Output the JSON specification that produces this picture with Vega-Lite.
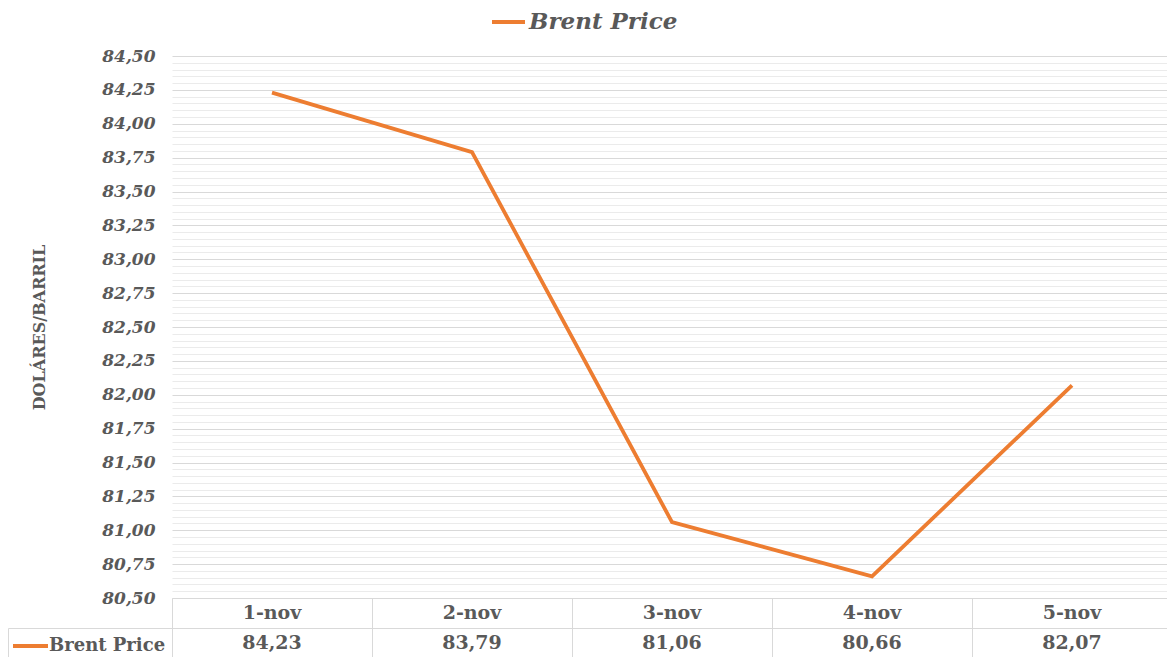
{
  "$schema": "https://vega.github.io/schema/vega-lite/v6.json",
  "padding": {"left": 7, "top": 10, "right": 0, "bottom": 0},
  "background": "white",
  "config": {"view": {"stroke": null}},
  "data": {"values": [
    {"date": "1-nov", "price": 84.23},
    {"date": "2-nov", "price": 83.79},
    {"date": "3-nov", "price": 81.06},
    {"date": "4-nov", "price": 80.66},
    {"date": "5-nov", "price": 82.07}
  ]},
  "spacing": 0,
  "bounds": "flush",
  "resolve": {"scale": {"x": "independent", "y": "independent", "color": "independent"}, "legend": {"color": "independent"}},
  "vconcat": [
    {
      "width": 1000,
      "height": 542,
      "layer": [
        {
          "mark": {"type": "line", "opacity": 0},
          "encoding": {
            "x": {"field": "date", "type": "ordinal", "sort": null, "scale": {"type": "point", "padding": 0.5}, "axis": null},
            "y": {"field": "price", "type": "quantitative", "scale": {"domain": [80.5, 84.5], "nice": false, "zero": false},
              "axis": {"orient": "left", "grid": true, "tickCount": 80, "labels": false, "ticks": false, "domain": false, "title": null,
                "gridColor": {"condition": {"test": "abs(datum.value*4 - round(datum.value*4)) < 0.001", "value": "transparent"}, "value": "#ebebeb"}}}
          }
        },
        {
          "mark": {"type": "line", "strokeWidth": 3.8},
          "encoding": {
            "x": {"field": "date", "type": "ordinal", "sort": null, "scale": {"type": "point", "padding": 0.5}, "axis": null},
            "y": {"field": "price", "type": "quantitative", "scale": {"domain": [80.5, 84.5], "nice": false, "zero": false},
              "axis": {"orient": "left", "values": [80.5, 80.75, 81, 81.25, 81.5, 81.75, 82, 82.25, 82.5, 82.75, 83, 83.25, 83.5, 83.75, 84, 84.25, 84.5],
                "labelExpr": "replace(format(datum.value, '.2f'), '.', ',')",
                "labelFont": "DejaVu Serif", "labelFontStyle": "italic", "labelFontWeight": "bold", "labelFontSize": 17, "labelColor": "#595959", "labelPadding": 17,
                "ticks": false, "domain": false, "grid": true, "gridColor": "#d9d9d9",
                "title": "DOLÁRES/BARRIL", "titleFont": "DejaVu Serif", "titleFontSize": 16, "titleFontWeight": "bold", "titleColor": "#595959", "titlePadding": 54}},
            "color": {"datum": "Brent Price", "type": "nominal", "scale": {"range": ["#ED7D31"]},
              "legend": {"orient": "none", "legendX": 318, "legendY": -46, "title": null, "labelFont": "DejaVu Serif", "labelFontStyle": "italic", "labelFontWeight": "bold", "labelFontSize": 23, "labelColor": "#595959", "labelLimit": 400,
                "symbolType": "M-1,0H2.3", "symbolStrokeWidth": 4, "symbolSize": 400, "labelOffset": 15}}
          }
        }
      ],
      "resolve": {"axis": {"y": "independent"}}
    },
    {
      "width": 1000,
      "height": 60,
      "encoding": {
        "x": {"field": "date", "type": "ordinal", "sort": null, "scale": {"type": "band", "paddingInner": 0, "paddingOuter": 0},
          "axis": {"grid": true, "tickBand": "extent", "gridColor": "#d9d9d9", "labels": false, "ticks": false, "domain": false, "title": null}}
      },
      "layer": [
        {
          "mark": {"type": "text", "font": "DejaVu Serif", "fontWeight": "bold", "fontSize": 19, "color": "#595959"},
          "encoding": {
            "y": {"datum": "cat", "type": "nominal", "scale": {"type": "band", "domain": ["cat", "val"], "paddingInner": 0, "paddingOuter": 0},
              "axis": {"grid": true, "tickBand": "extent", "gridColor": "#d9d9d9", "labels": false, "ticks": false, "domain": false, "title": null}},
            "text": {"field": "date"}
          }
        },
        {
          "mark": {"type": "text", "font": "DejaVu Serif", "fontWeight": "bold", "fontSize": 19, "color": "#595959",
            "text": {"expr": "replace(format(datum.price, '.2f'), '.', ',')"}},
          "encoding": {
            "y": {"datum": "val", "type": "nominal"}
          }
        },
        {
          "mark": {"type": "line", "opacity": 0},
          "encoding": {
            "y": {"datum": "val", "type": "nominal"},
            "color": {"datum": "Brent Price", "type": "nominal", "scale": {"range": ["#ED7D31"]},
              "legend": {"orient": "none", "legendX": -164, "legendY": 30, "title": null, "labelFont": "DejaVu Serif", "labelFontWeight": "bold", "labelFontSize": 18, "labelColor": "#595959", "labelLimit": 400,
                "symbolType": "M-1.3,0H2.2", "symbolStrokeWidth": 4, "symbolSize": 400, "labelOffset": 11, "padding": 6, "strokeColor": "#d9d9d9"}}
          }
        }
      ]
    }
  ]
}
